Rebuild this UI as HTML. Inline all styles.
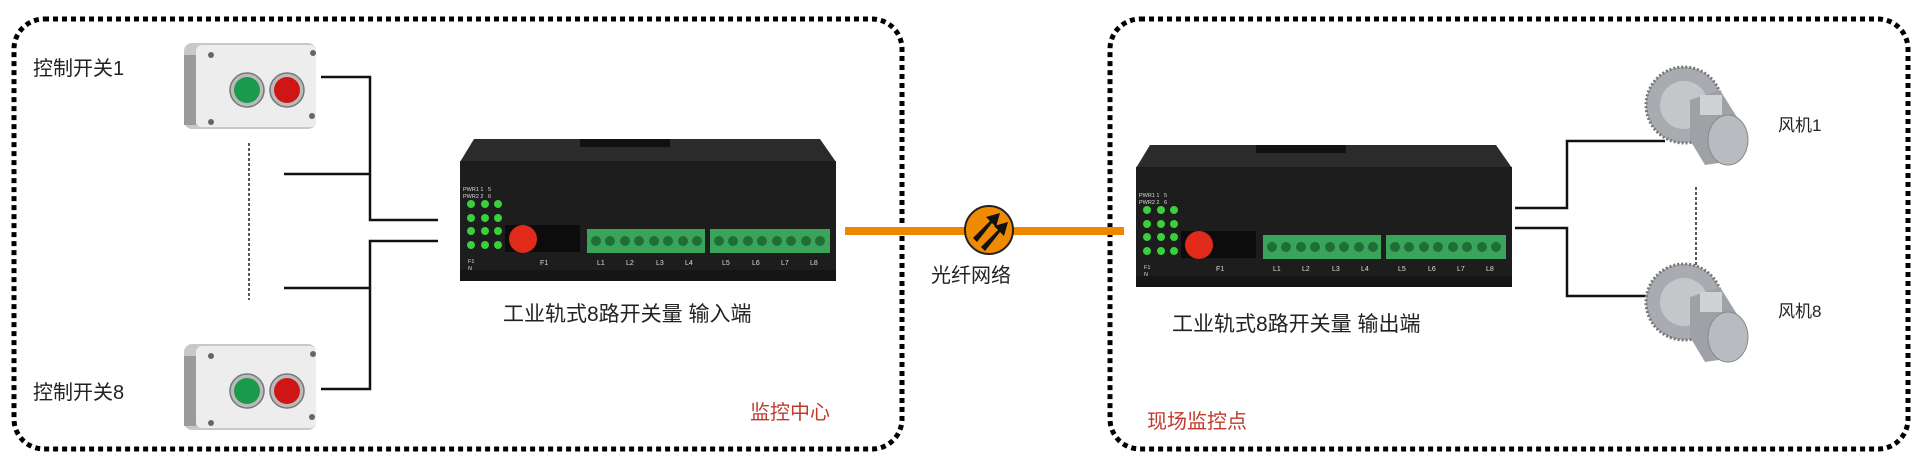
<!DOCTYPE html>
<html><head><meta charset="utf-8"><style>
html,body{margin:0;padding:0;background:#fff;}
body{width:1920px;height:458px;position:relative;overflow:hidden;font-family:"Liberation Sans","Noto Sans CJK SC",sans-serif;}
.t{position:absolute;white-space:nowrap;line-height:1;}
svg{position:absolute;}
</style></head><body>
<svg width="1920" height="458" style="left:0;top:0">
 <g fill="none" stroke="#000" stroke-width="5" stroke-dasharray="5 4">
  <rect x="14" y="19" width="888" height="430" rx="30"/>
  <rect x="1110" y="19" width="798" height="430" rx="30"/>
 </g>
 <g fill="none" stroke="#111" stroke-width="2.5">
  <polyline points="321,77 370,77 370,220 438,220"/>
  <line x1="284" y1="174" x2="370" y2="174"/>
  <polyline points="321,389 370,389 370,241 438,241"/>
  <line x1="284" y1="288" x2="370" y2="288"/>
  <polyline points="1515,208 1567,208 1567,141 1665,141"/>
  <polyline points="1515,228 1567,228 1567,296 1665,296"/>
 </g>
 <g stroke="#222" stroke-width="1.5" stroke-dasharray="3 2">
  <line x1="249" y1="143" x2="249" y2="300"/>
  <line x1="1696" y1="187" x2="1696" y2="267"/>
 </g>
 <line x1="845" y1="231" x2="1124" y2="231" stroke="#f08500" stroke-width="8"/>
 <circle cx="989" cy="230" r="24" fill="#f08a00" stroke="#222" stroke-width="2"/>
 <g fill="#111">
  <polygon points="973,238 990,221 986,217 1000,213 996,227 992,223 977,242"/>
  <polygon points="981,247 998,230 994,226 1008,222 1004,236 1000,232 985,251"/>
 </g>
 <!-- switches -->
 <g id="sw1">
  <rect x="184" y="43" width="132" height="86" rx="8" fill="#c8c8c8"/>
  <rect x="196" y="45" width="120" height="82" rx="6" fill="#ededed"/>
  <rect x="184" y="55" width="12" height="70" fill="#9a9a9a"/>
  <circle cx="247" cy="90" r="17" fill="#bbb" stroke="#777" stroke-width="1.5"/>
  <circle cx="247" cy="90" r="13" fill="#1a9a4a"/>
  <circle cx="287" cy="90" r="17" fill="#bbb" stroke="#777" stroke-width="1.5"/>
  <circle cx="287" cy="90" r="13" fill="#d01515"/>
  <circle cx="211" cy="55" r="3" fill="#666"/><circle cx="313" cy="53" r="3" fill="#666"/>
  <circle cx="211" cy="122" r="3" fill="#666"/><circle cx="312" cy="116" r="3" fill="#666"/>
 </g>
 <g transform="translate(0,301)">
  <rect x="184" y="43" width="132" height="86" rx="8" fill="#c8c8c8"/>
  <rect x="196" y="45" width="120" height="82" rx="6" fill="#ededed"/>
  <rect x="184" y="55" width="12" height="70" fill="#9a9a9a"/>
  <circle cx="247" cy="90" r="17" fill="#bbb" stroke="#777" stroke-width="1.5"/>
  <circle cx="247" cy="90" r="13" fill="#1a9a4a"/>
  <circle cx="287" cy="90" r="17" fill="#bbb" stroke="#777" stroke-width="1.5"/>
  <circle cx="287" cy="90" r="13" fill="#d01515"/>
  <circle cx="211" cy="55" r="3" fill="#666"/><circle cx="313" cy="53" r="3" fill="#666"/>
  <circle cx="211" cy="122" r="3" fill="#666"/><circle cx="312" cy="116" r="3" fill="#666"/>
 </g>
 <!-- fans -->
 <g>
  <circle cx="1684" cy="105" r="38" fill="#a8acb0" stroke="#777" stroke-width="3" stroke-dasharray="2 2"/>
  <circle cx="1684" cy="105" r="24" fill="#c4c7ca"/>
  <polygon points="1690,100 1720,90 1745,130 1740,160 1705,165 1690,140" fill="#9ea2a6"/>
  <ellipse cx="1728" cy="140" rx="20" ry="25" fill="#b8bcc0" stroke="#888"/>
  <rect x="1700" y="95" width="22" height="20" fill="#d0d2d4"/>
 </g>
 <g transform="translate(0,197)">
  <circle cx="1684" cy="105" r="38" fill="#a8acb0" stroke="#777" stroke-width="3" stroke-dasharray="2 2"/>
  <circle cx="1684" cy="105" r="24" fill="#c4c7ca"/>
  <polygon points="1690,100 1720,90 1745,130 1740,160 1705,165 1690,140" fill="#9ea2a6"/>
  <ellipse cx="1728" cy="140" rx="20" ry="25" fill="#b8bcc0" stroke="#888"/>
  <rect x="1700" y="95" width="22" height="20" fill="#d0d2d4"/>
 </g>
</svg>

<svg style="left:460px;top:135px" width="380" height="148" viewBox="0 0 380 148">
 <polygon points="0,27 14,4 360,4 376,27" fill="#2b2b2b"/>
 <rect x="120" y="4" width="90" height="8" fill="#111"/>
 <rect x="0" y="26" width="376" height="120" fill="#1d1d1d"/>
 <rect x="0" y="135" width="376" height="11" fill="#151515"/>
 <g fill="#ddd" font-size="5.5" font-family="Liberation Sans"><text x="3" y="56">PWR1 1 &#160;&#160;5</text><text x="3" y="63">PWR2 2 &#160;&#160;6</text><text x="8" y="128">F1</text><text x="8" y="135">N</text><text x="80" y="130" font-size="7">F1</text></g>
 <g fill="#3ccf3c"><circle cx="11" cy="69" r="4"/><circle cx="25" cy="69" r="4"/><circle cx="38" cy="69" r="4"/><circle cx="11" cy="83" r="4"/><circle cx="25" cy="83" r="4"/><circle cx="38" cy="83" r="4"/><circle cx="11" cy="96" r="4"/><circle cx="25" cy="96" r="4"/><circle cx="38" cy="96" r="4"/><circle cx="11" cy="110" r="4"/><circle cx="25" cy="110" r="4"/><circle cx="38" cy="110" r="4"/></g>
 <rect x="45" y="90" width="75" height="27" fill="#0c0c0c"/>
 <circle cx="63" cy="104" r="14" fill="#e02a1a"/>
 <rect x="127" y="94" width="118" height="24" fill="#3aa55a"/>
 <rect x="250" y="94" width="120" height="24" fill="#3aa55a"/>
 <g fill="#1f6e35"><circle cx="136" cy="106" r="5"/><circle cx="150" cy="106" r="5"/><circle cx="165" cy="106" r="5"/><circle cx="179" cy="106" r="5"/><circle cx="194" cy="106" r="5"/><circle cx="208" cy="106" r="5"/><circle cx="223" cy="106" r="5"/><circle cx="237" cy="106" r="5"/><circle cx="259" cy="106" r="5"/><circle cx="273" cy="106" r="5"/><circle cx="288" cy="106" r="5"/><circle cx="302" cy="106" r="5"/><circle cx="317" cy="106" r="5"/><circle cx="331" cy="106" r="5"/><circle cx="346" cy="106" r="5"/><circle cx="360" cy="106" r="5"/></g>
 <g fill="#ddd" font-size="7" font-family="Liberation Sans"><text x="137" y="130">L1</text><text x="166" y="130">L2</text><text x="196" y="130">L3</text><text x="225" y="130">L4</text><text x="262" y="130">L5</text><text x="292" y="130">L6</text><text x="321" y="130">L7</text><text x="350" y="130">L8</text></g>
</svg>

<svg style="left:1136px;top:141px" width="380" height="148" viewBox="0 0 380 148">
 <polygon points="0,27 14,4 360,4 376,27" fill="#2b2b2b"/>
 <rect x="120" y="4" width="90" height="8" fill="#111"/>
 <rect x="0" y="26" width="376" height="120" fill="#1d1d1d"/>
 <rect x="0" y="135" width="376" height="11" fill="#151515"/>
 <g fill="#ddd" font-size="5.5" font-family="Liberation Sans"><text x="3" y="56">PWR1 1 &#160;&#160;5</text><text x="3" y="63">PWR2 2 &#160;&#160;6</text><text x="8" y="128">F1</text><text x="8" y="135">N</text><text x="80" y="130" font-size="7">F1</text></g>
 <g fill="#3ccf3c"><circle cx="11" cy="69" r="4"/><circle cx="25" cy="69" r="4"/><circle cx="38" cy="69" r="4"/><circle cx="11" cy="83" r="4"/><circle cx="25" cy="83" r="4"/><circle cx="38" cy="83" r="4"/><circle cx="11" cy="96" r="4"/><circle cx="25" cy="96" r="4"/><circle cx="38" cy="96" r="4"/><circle cx="11" cy="110" r="4"/><circle cx="25" cy="110" r="4"/><circle cx="38" cy="110" r="4"/></g>
 <rect x="45" y="90" width="75" height="27" fill="#0c0c0c"/>
 <circle cx="63" cy="104" r="14" fill="#e02a1a"/>
 <rect x="127" y="94" width="118" height="24" fill="#3aa55a"/>
 <rect x="250" y="94" width="120" height="24" fill="#3aa55a"/>
 <g fill="#1f6e35"><circle cx="136" cy="106" r="5"/><circle cx="150" cy="106" r="5"/><circle cx="165" cy="106" r="5"/><circle cx="179" cy="106" r="5"/><circle cx="194" cy="106" r="5"/><circle cx="208" cy="106" r="5"/><circle cx="223" cy="106" r="5"/><circle cx="237" cy="106" r="5"/><circle cx="259" cy="106" r="5"/><circle cx="273" cy="106" r="5"/><circle cx="288" cy="106" r="5"/><circle cx="302" cy="106" r="5"/><circle cx="317" cy="106" r="5"/><circle cx="331" cy="106" r="5"/><circle cx="346" cy="106" r="5"/><circle cx="360" cy="106" r="5"/></g>
 <g fill="#ddd" font-size="7" font-family="Liberation Sans"><text x="137" y="130">L1</text><text x="166" y="130">L2</text><text x="196" y="130">L3</text><text x="225" y="130">L4</text><text x="262" y="130">L5</text><text x="292" y="130">L6</text><text x="321" y="130">L7</text><text x="350" y="130">L8</text></g>
</svg>

<div class="t" style="left:33px;top:59px;font-size:20px;color:#222">控制开关1</div>
<div class="t" style="left:33px;top:383px;font-size:20px;color:#222">控制开关8</div>
<div class="t" style="left:503px;top:304px;font-size:21px;color:#222">工业轨式8路开关量 输入端</div>
<div class="t" style="left:750px;top:403px;font-size:20px;color:#c0392b">监控中心</div>
<div class="t" style="left:931px;top:266px;font-size:20px;color:#222">光纤网络</div>
<div class="t" style="left:1172px;top:314px;font-size:21px;color:#222">工业轨式8路开关量 输出端</div>
<div class="t" style="left:1147px;top:412px;font-size:20px;color:#c0392b">现场监控点</div>
<div class="t" style="left:1778px;top:117px;font-size:17px;color:#222">风机1</div>
<div class="t" style="left:1778px;top:303px;font-size:17px;color:#222">风机8</div>
</body></html>
